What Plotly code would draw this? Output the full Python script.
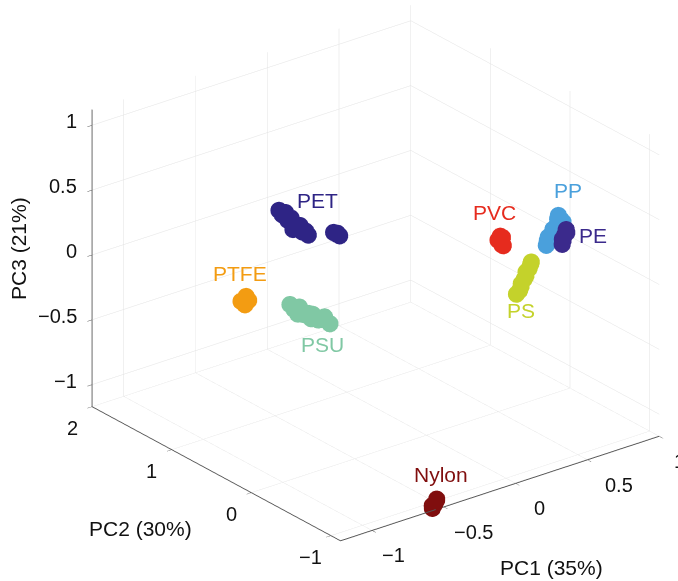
import plotly.graph_objects as go

# ---- data (PC1, PC2, PC3) per polymer cluster ----
pet_x = [-0.28, -0.28, -0.29, -0.29, -0.29, -0.30, -0.30, -0.30, -0.31, -0.31, -0.32, -0.29, -0.31, -0.30,
         -0.20, -0.19, -0.21, -0.20]
pet_y = [1.35, 1.31, 1.27, 1.22, 1.18, 1.14, 1.10, 1.05, 1.00, 0.96, 0.91, 1.25, 1.12, 1.02,
         0.77, 0.75, 0.79, 0.76]
pet_z = [0.22, 0.20, 0.21, 0.19, 0.22, 0.20, 0.18, 0.21, 0.19, 0.20, 0.19, 0.24, 0.16, 0.17,
         0.20, 0.19, 0.21, 0.21]

ptfe_x = [-0.54, -0.52, -0.55, -0.53, -0.55, -0.54, -0.53]
ptfe_y = [1.31, 1.33, 1.29, 1.28, 1.34, 1.30, 1.32]
ptfe_z = [-0.37, -0.35, -0.39, -0.36, -0.38, -0.34, -0.40]

psu_x = [-0.27, -0.27, -0.26, -0.26, -0.25, -0.25, -0.24, -0.24, -0.23, -0.26, -0.25, -0.24]
psu_y = [1.23, 1.18, 1.13, 1.08, 1.03, 0.98, 0.93, 0.88, 0.80, 1.15, 1.00, 0.85]
psu_z = [-0.47, -0.49, -0.46, -0.50, -0.48, -0.47, -0.50, -0.48, -0.49, -0.52, -0.51, -0.45]

pvc_x = [0.69, 0.69, 0.70, 0.68, 0.70, 0.69]
pvc_y = [0.31, 0.32, 0.30, 0.33, 0.31, 0.30]
pvc_z = [-0.03, 0.01, -0.06, -0.02, 0.00, -0.05]

pp_x = [0.89, 0.90, 0.89, 0.88, 0.89, 0.88, 0.89, 0.90, 0.89, 0.90, 0.89]
pp_y = [-0.08, -0.06, -0.03, 0.00, 0.03, 0.06, 0.09, 0.12, -0.05, -0.09, -0.04]
pp_z = [0.20, 0.17, 0.14, 0.10, 0.06, 0.02, -0.02, -0.07, 0.22, 0.18, 0.19]

pe_x = [0.80, 0.81, 0.80, 0.79, 0.80, 0.80]
pe_y = [-0.31, -0.30, -0.29, -0.28, -0.27, -0.26]
pe_z = [0.23, 0.20, 0.18, 0.15, 0.13, 0.10]

ps_x = [0.68, 0.68, 0.67, 0.68, 0.68, 0.67, 0.68, 0.68, 0.67, 0.69]
ps_y = [-0.08, -0.06, -0.04, -0.02, 0.00, 0.02, 0.04, 0.06, 0.08, -0.07]
ps_z = [-0.07, -0.11, -0.14, -0.18, -0.21, -0.25, -0.28, -0.32, -0.35, -0.06]

nylon_x = [-0.55, -0.53, -0.57, -0.54, -0.56]
nylon_y = [-1.09, -1.08, -1.10, -1.10, -1.08]
nylon_z = [-1.14, -1.12, -1.16, -1.10, -1.15]

x_range = [-1.22, 1.0]
y_range = [-1.12, 2.0]
z_range = [-1.17, 1.12]
x_ticks = [-1, -0.5, 0, 0.5, 1]
x_labels = ["\u22121", "\u22120.5", "0", "0.5", "1"]
y_ticks = [-1, 0, 1, 2]
y_labels = ["\u22121", "0", "1", "2"]
z_ticks = [-1, -0.5, 0, 0.5, 1]
z_labels = ["\u22121", "\u22120.5", "0", "0.5", "1"]

clusters = [
    ("PET", pet_x, pet_y, pet_z, "#2e2485", (14, 25)),
    ("PTFE", ptfe_x, ptfe_y, ptfe_z, "#f39c12", (-5, 27)),
    ("PSU", psu_x, psu_y, psu_z, "#80c8a4", (13, -30)),
    ("PVC", pvc_x, pvc_y, pvc_z, "#e62b1e", (-6, 28)),
    ("PP", pp_x, pp_y, pp_z, "#4aa0dc", (13, 37)),
    ("PE", pe_x, pe_y, pe_z, "#3b2a8c", (29, 1)),
    ("PS", ps_x, ps_y, ps_z, "#c4d22b", (-3, -33)),
    ("Nylon", nylon_x, nylon_y, nylon_z, "#800e0e", (7, 29)),
]

FONT = "Liberation Sans, Arial, Helvetica, sans-serif"
TXT = "#111111"

fig = go.Figure()
annotations = []
for name, xs, ys, zs, col, (dx, dy) in clusters:
    fig.add_trace(go.Scatter3d(
        x=xs, y=ys, z=zs, mode="markers", name=name,
        marker=dict(size=10, color=col, opacity=1, line=dict(width=0)),
        showlegend=False, hoverinfo="name",
    ))
    n = len(xs)
    annotations.append(dict(
        x=sum(xs) / n, y=sum(ys) / n, z=sum(zs) / n, text=name,
        showarrow=False, xshift=dx, yshift=dy,
        font=dict(family=FONT, size=21, color=col),
    ))

# tick labels placed at the tick positions of each axis
tick_font = dict(family=FONT, size=20, color=TXT)
for v, t in zip(x_ticks, x_labels):
    annotations.append(dict(x=v, y=y_range[0], z=z_range[0], text=t, showarrow=False,
                            xanchor="left", yanchor="middle",
                            xshift=(8 if v < 0 else (13 if v == x_range[1] else 16)),
                            yshift=-25, font=tick_font))
for v, t in zip(y_ticks, y_labels):
    annotations.append(dict(x=x_range[0], y=v, z=z_range[0], text=t, showarrow=False,
                            xanchor="center", yanchor="middle",
                            xshift=-20, yshift=-21, font=tick_font))
for v, t in zip(z_ticks, z_labels):
    annotations.append(dict(x=x_range[0], y=y_range[1], z=v, text=t, showarrow=False,
                            xanchor="right", yanchor="middle",
                            xshift=-13, yshift=4, font=tick_font))

axis_common = dict(
    showbackground=False, showgrid=True, gridcolor="#e2e2e2", gridwidth=1,
    zeroline=False, showline=True, linecolor="#555555", linewidth=2,
    ticks="outside", tickcolor="#555555", ticklen=6,
    showticklabels=False,
    title=dict(text=""), showspikes=False,
)

cx, cy, cz = -0.075, 0.109, -0.085
fig.update_layout(
    width=678, height=581,
    margin=dict(l=0, r=0, t=0, b=0),
    paper_bgcolor="white",
    template="none",
    scene=dict(
        domain=dict(x=[0, 1], y=[0, 1]),
        xaxis=dict(range=x_range, tickvals=x_ticks, **axis_common),
        yaxis=dict(range=y_range, tickvals=y_ticks, **axis_common),
        zaxis=dict(range=z_range, tickvals=z_ticks, **axis_common),
        aspectmode="manual",
        aspectratio=dict(x=1.391, y=1.391, z=1.127),
        camera=dict(
            eye=dict(x=-1.06 + cx, y=-1.36 + cy, z=0.80 + cz),
            center=dict(x=cx, y=cy, z=cz),
            up=dict(x=0, y=0, z=1),
            projection=dict(type="orthographic"),
        ),
        annotations=annotations,
    ),
    annotations=[
        dict(text="PC3 (21%)", x=18, y=249, showarrow=False, textangle=-90,
             xanchor="center", yanchor="middle", font=dict(family=FONT, size=21, color=TXT)),
        dict(text="PC2 (30%)", x=140, y=528, showarrow=False,
             xanchor="center", yanchor="middle", font=dict(family=FONT, size=21, color=TXT)),
        dict(text="PC1 (35%)", x=551, y=567, showarrow=False,
             xanchor="center", yanchor="middle", font=dict(family=FONT, size=21, color=TXT)),
    ],
)

# convert pixel positions for axis titles to paper coords
W, H = 678, 581
for a in fig.layout.annotations:
    a.xref = "paper"
    a.yref = "paper"
    a.x = a.x / W
    a.y = 1 - a.y / H

fig.write_html("out.html")
